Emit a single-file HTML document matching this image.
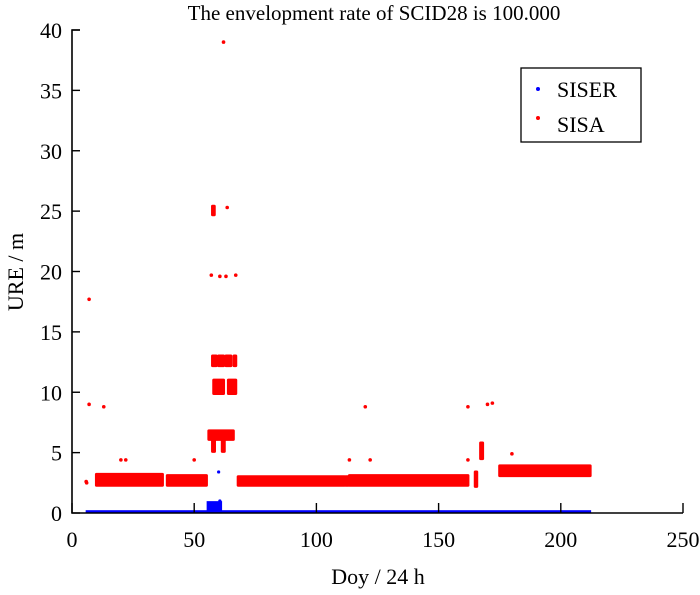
<!DOCTYPE html>
<html><head><meta charset="utf-8"><style>
html,body{margin:0;padding:0;background:#fff;}
svg text{font-family:"Liberation Serif",serif;fill:#000;}
</style></head><body>
<svg id="chart" width="700" height="590" xmlns="http://www.w3.org/2000/svg">
<text x="374" y="20" font-size="21" text-anchor="middle">The envelopment rate of SCID28 is 100.000</text>
<g id="marks"></g>
<g id="axes"></g>
<text x="378" y="584" font-size="22" text-anchor="middle">Doy / 24 h</text>
<text transform="translate(23,272) rotate(-90)" font-size="22" text-anchor="middle">URE / m</text>
<g>
<rect x="521" y="68" width="120" height="74" fill="#fff" stroke="#000" stroke-width="1.3"/>
<circle cx="538" cy="89" r="2" fill="#0000ff"/>
<text x="557" y="97" font-size="22">SISER</text>
<circle cx="538" cy="118" r="2" fill="#ff0000"/>
<text x="557" y="132" font-size="22">SISA</text>
</g>
</svg>
<script>
// SISA bands: [xStart, xEnd, yLow, yHigh]
const sisaBandX0 = [10, 39, 56, 58, 64, 57.5, 60, 63, 66.3, 57.5, 57.5, 61.5, 68, 112, 113.5, 165, 167.2, 175];
const sisaBandX1 = [37, 55, 66, 62, 67, 59, 62, 65, 67, 58.2, 58.3, 62.3, 111.5, 113, 162, 165.6, 168, 212];
const sisaBandY0 = [2.3, 2.3, 6.1, 9.9, 9.9, 12.2, 12.2, 12.2, 12.2, 24.7, 5.1, 5.1, 2.3, 2.3, 2.3, 2.2, 4.5, 3.1];
const sisaBandY1 = [3.2, 3.1, 6.8, 11.0, 11.0, 13.0, 13.0, 13.0, 13.0, 25.4, 6.0, 6.0, 3.0, 3.0, 3.1, 3.4, 5.8, 3.9];
// SISA isolated points
const sisaPtX = [6, 7, 7, 13, 20, 22, 50, 62, 63.5, 57, 60.5, 63, 67, 113.5, 120, 122, 162, 162, 170, 172, 180, 5.8];
const sisaPtY = [2.5, 17.7, 9, 8.8, 4.4, 4.4, 4.4, 39, 25.3, 19.7, 19.6, 19.6, 19.7, 4.4, 8.8, 4.4, 8.8, 4.4, 9, 9.1, 4.9, 2.6];
// SISER: baseline band and outliers
const siserBandX0 = [6, 55.5];
const siserBandX1 = [212, 61];
const siserBandY0 = [0, 0];
const siserBandY1 = [0.15, 0.9];
const siserPtX = [60, 60.5, 56.5];
const siserPtY = [3.4, 1.0, 0.6];
const xTicks = [0, 50, 100, 150, 200, 250];
const yTicks = [0, 5, 10, 15, 20, 25, 30, 35, 40];

const X0 = 72, X1 = 683, Y0 = 513, Y1 = 30;
const sx = v => X0 + (v - 0) / 250 * (X1 - X0);
const sy = v => Y0 - (v - 0) / 40 * (Y0 - Y1);
const NS = 'http://www.w3.org/2000/svg';
const marks = document.getElementById('marks');
const axes = document.getElementById('axes');
function mk(tag, attrs, parent) {
  const e = document.createElementNS(NS, tag);
  for (const k in attrs) e.setAttribute(k, attrs[k]);
  parent.appendChild(e);
  return e;
}
for (let i = 0; i < sisaBandX0.length; i++) {
  const r = mk('rect', {x: sx(sisaBandX0[i]) - 1.5, y: sy(sisaBandY1[i]) - 1.5, width: sx(sisaBandX1[i]) - sx(sisaBandX0[i]) + 3, height: sy(sisaBandY0[i]) - sy(sisaBandY1[i]) + 3, rx: 1.5, fill: '#ff0000'}, marks);
  
  
}
for (let i = 0; i < sisaPtX.length; i++) {
  const c = mk('circle', {cx: sx(sisaPtX[i]), cy: sy(sisaPtY[i]), r: 1.8, fill: '#ff0000'}, marks);
  
  
}
for (let i = 0; i < siserBandX0.length; i++) {
  const r = mk('rect', {x: sx(siserBandX0[i]) - 1, y: sy(siserBandY1[i]) - 1, width: sx(siserBandX1[i]) - sx(siserBandX0[i]) + 2, height: sy(siserBandY0[i]) - sy(siserBandY1[i]) + 1, fill: '#0000ff'}, marks);
  
  
}
for (let i = 0; i < siserPtX.length; i++) {
  const c = mk('circle', {cx: sx(siserPtX[i]), cy: sy(siserPtY[i]), r: 1.6, fill: '#0000ff'}, marks);
  
  
}
const ax = mk('path', {d: `M${X0 + 8},${Y1}H${X0}V${Y0}H${X1}`, fill: 'none', stroke: '#000', 'stroke-width': 1.6}, axes);


for (const t of xTicks) {
  const l = mk('line', {x1: sx(t), x2: sx(t), y1: Y0, y2: Y0 - 10, stroke: '#000', 'stroke-width': 1.4}, axes);
  
  
  const tx = mk('text', {x: sx(t), y: Y0 + 34, 'font-size': 22, 'text-anchor': 'middle'}, axes);
  tx.textContent = t;
  
  
}
for (const t of yTicks) {
  const l = mk('line', {x1: X0, x2: X0 + 8, y1: sy(t), y2: sy(t), stroke: '#000', 'stroke-width': 1.4}, axes);
  
  
  const tx = mk('text', {x: X0 - 10, y: sy(t) + 8, 'font-size': 22, 'text-anchor': 'end'}, axes);
  tx.textContent = t;
  
  
}
</script>
</body></html>
